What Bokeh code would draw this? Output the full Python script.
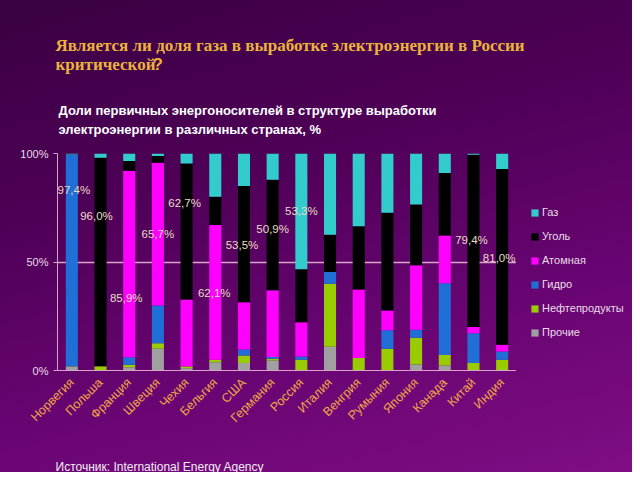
import math
from bokeh.plotting import figure
from bokeh.layouts import column, row
from bokeh.models import (FactorRange, Range1d, FixedTicker, PrintfTickFormatter,
                          Legend, LegendItem, Label, ColumnDataSource)
from bokeh.core.properties import value
from bokeh.embed import file_html
from bokeh.resources import INLINE

countries = ["Норвегия", "Польша", "Франция", "Швеция", "Чехия", "Бельгия", "США",
             "Германия", "Россия", "Италия", "Венгрия", "Румыния", "Япония", "Канада",
             "Китай", "Индия"]

others  = [1.8, 0.0, 1.5, 10.0, 1.0, 3.8, 3.4, 4.6, 0.0, 11.0, 0.0, 0.0, 2.8, 2.3, 0.0, 0.0]
oil     = [0.2, 2.0, 1.2, 2.6, 0.8, 1.2, 3.5, 0.8, 5.0, 29.0, 5.8, 10.0, 12.3, 4.9, 3.5, 4.9]
hydro   = [97.4, 0.0, 3.4, 17.4, 0.0, 0.0, 2.8, 0.8, 1.4, 5.4, 0.0, 8.5, 3.7, 33.0, 13.7, 3.8]
nuclear = [0.0, 0.0, 85.9, 65.7, 30.9, 62.1, 21.8, 30.8, 15.8, 0.0, 31.5, 9.2, 29.7, 22.0, 2.8, 3.2]
coal    = [0.1, 96.0, 4.6, 3.1, 62.7, 13.0, 53.5, 50.9, 24.5, 17.2, 29.2, 45.0, 28.0, 28.8, 79.4, 81.0]
gas     = [0.5, 2.0, 3.4, 1.2, 4.6, 19.9, 15.0, 12.1, 53.3, 37.4, 33.5, 27.3, 23.5, 9.0, 0.6, 7.1]

series_keys = ["others", "oil", "hydro", "nuclear", "coal", "gas"]
series_names = ["Прочие", "Нефтепродукты", "Гидро", "Атомная", "Уголь", "Газ"]
series_colors = ["#a0a0a0", "#99cc00", "#1f6fd6", "#ff00ff", "#000000", "#33cccc"]

label_countries = ["Норвегия", "Польша", "Франция", "Швеция", "Чехия", "Бельгия", "США",
                   "Германия", "Россия", "Китай", "Индия"]
label_texts = ["97,4%", "96,0%", "85,9%", "65,7%", "62,7%", "62,1%", "53,5%",
               "50,9%", "53,3%", "79,4%", "81,0%"]
label_pos = [83.0, 71.4, 33.6, 62.7, 77.0, 35.5, 58.0, 65.4, 73.3, 60.0, 52.0]
label_dx = [2, -4, -3, 0, -2, -1, -2, 0, 0, -2, -3]

y_ticks = [0, 50, 100]

title_line1 = "Является ли доля газа в выработке электроэнергии в России"
title_line2 = "критической"
subtitle_line1 = "Доли первичных энергоносителей в структуре выработки"
subtitle_line2 = "электроэнергии в различных странах, %"
source_text = "Источник: International Energy Agency"


def blank_fig(w, h, x_range=None):
    f = figure(width=w, height=h, x_range=x_range if x_range is not None else Range1d(0, w),
               y_range=Range1d(0, h), x_axis_type=None, y_axis_type=None,
               output_backend="svg", toolbar_location=None, min_border=0,
               title_location=None)
    f.border_fill_color = None
    f.background_fill_color = None
    f.outline_line_color = None
    f.grid.visible = False
    return f


# ---------- header ----------
top = blank_fig(632, 140)
title_color = "#e8b43c"
for txt, x, y, font, size, color in [
        (title_line1, 55, 95, "Liberation Serif", "17px", title_color),
        (title_line2, 55, 76, "Liberation Serif", "17px", title_color),
        (subtitle_line1, 58, 30, "Liberation Sans", "13px", "#ffffff"),
        (subtitle_line2, 58, 11, "Liberation Sans", "13px", "#ffffff")]:
    top.add_layout(Label(x=x, y=y, x_units="screen", y_units="screen", text=txt,
                         text_font=font, text_font_style="bold", text_font_size=size,
                         text_color=color, text_baseline="middle"))
top.add_layout(Label(x=152, y=76, x_units="screen", y_units="screen", text="?",
                     text_font="Liberation Sans", text_font_style="bold",
                     text_font_size="17px", text_color=title_color, text_baseline="middle"))

# ---------- main chart ----------
source = ColumnDataSource(dict(countries=countries, others=others, oil=oil, hydro=hydro,
                               nuclear=nuclear, coal=coal, gas=gas))

p = figure(width=516, height=310, x_range=FactorRange(*countries, range_padding=0),
           y_range=Range1d(0, 100), output_backend="svg", toolbar_location=None,
           min_border_left=57, min_border_right=0, min_border_top=13,
           min_border_bottom=80, title_location=None)
p.border_fill_color = None
p.background_fill_color = None
p.outline_line_color = None

p.vbar_stack(series_keys, x="countries", width=0.42, source=source,
             color=series_colors, line_color=None)

p.text(x=label_countries, y=label_pos, text=label_texts, text_align="center",
       text_baseline="middle", text_font=value("Liberation Sans"),
       text_font_size="11.5px", text_color="#e8dcc4", x_offset=label_dx)

p.yaxis.ticker = FixedTicker(ticks=y_ticks)
p.yaxis.formatter = PrintfTickFormatter(format="%d%%")
p.yaxis.axis_line_color = "#d8a4c8"
p.yaxis.major_tick_line_color = "#d8a4c8"
p.yaxis.major_tick_out = 4
p.yaxis.major_tick_in = 0
p.yaxis.minor_tick_line_color = None
p.yaxis.major_label_text_color = "#eadcea"
p.yaxis.major_label_text_font = "Liberation Sans"
p.yaxis.major_label_text_font_size = "11px"
p.yaxis.major_label_standoff = 5

p.xaxis.axis_line_color = "#d8a4c8"
p.xaxis.major_tick_line_color = None
p.xaxis.minor_tick_line_color = None
p.xaxis.major_label_orientation = math.pi / 4
p.xaxis.major_label_text_color = "#f0a646"
p.xaxis.major_label_text_font = "Liberation Sans"
p.xaxis.major_label_text_font_size = "12.5px"
p.xaxis.major_label_standoff = 4

p.xgrid.grid_line_color = None
p.ygrid.ticker = FixedTicker(ticks=y_ticks)
p.ygrid.grid_line_color = "#d8a4c8"
p.ygrid.grid_line_width = 1.3

# ---------- legend panel (hidden copies of the series provide the swatches) ----------
lg = blank_fig(116, 310, x_range=FactorRange(*countries))
swatches = lg.vbar_stack(series_keys, x="countries", width=0.42, source=source,
                         color=series_colors, line_color=None, visible=False)
items = [LegendItem(label=series_names[i], renderers=[swatches[i]]) for i in range(5, -1, -1)]
legend = Legend(items=items, location=(14, 32), orientation="vertical",
                background_fill_alpha=0, border_line_color=None, padding=0, margin=0,
                glyph_width=9, glyph_height=9, label_height=9, spacing=12,
                label_standoff=3, label_text_font="Liberation Sans",
                label_text_font_size="11px", label_text_color="#eadcea",
                inactive_fill_alpha=0, click_policy="none")
lg.add_layout(legend)

# ---------- footer ----------
foot = blank_fig(632, 22)
foot.add_layout(Label(x=55, y=6, x_units="screen", y_units="screen", text=source_text,
                      text_font="Liberation Sans", text_font_size="12px",
                      text_color="#f4ecf4", text_baseline="middle"))

layout = column(top, row(p, lg, spacing=0), foot, spacing=0)
layout.styles = {"background": "linear-gradient(165deg, #3a0042 0%, #4e0056 35%, #660470 65%, #800d84 100%)"}

open("out.html", "w").write(file_html(layout, INLINE))
